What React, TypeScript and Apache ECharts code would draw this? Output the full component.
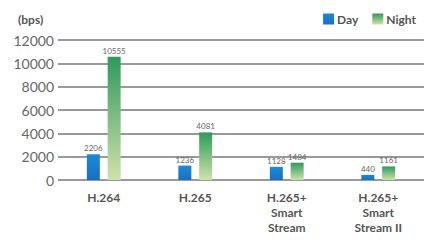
import React, { useEffect, useRef } from "react";
import * as echarts from "echarts";

const categories = ["H.264", "H.265", "H.265+\nSmart\nStream", "H.265+\nSmart\nStream II"];
const dayValues = [2206, 1236, 1128, 440];
const nightValues = [10555, 4081, 1484, 1161];
const yTicks = [0, 2000, 4000, 6000, 8000, 10000, 12000];

const yMin = yTicks[0];
const yMax = yTicks[yTicks.length - 1];
const yStep = yTicks[1] - yTicks[0];

export default function App() {
  const ref = useRef<HTMLDivElement>(null);
  useEffect(() => {
    if (!ref.current) return;
    const chart = echarts.init(ref.current, null, { renderer: "svg" });
    chart.setOption({
      animation: false,
      backgroundColor: "#ffffff",
      textStyle: { fontFamily: "Lato, 'DejaVu Sans', sans-serif" },
      title: {
        text: "(bps)",
        left: 13,
        top: 8,
        textStyle: { fontSize: 12, fontWeight: "bold", color: "#555" },
      },
      legend: {
        right: 6,
        top: 8,
        itemWidth: 11,
        itemHeight: 11,
        itemGap: 14,
        icon: "rect",
        textStyle: { fontSize: 12, fontWeight: "bold", color: "#555", padding: [0, 0, 0, -2] },
        data: ["Day", "Night"],
      },
      grid: { left: 58, width: 366, top: 40, bottom: 63 },
      xAxis: {
        type: "category",
        data: categories,
        axisLine: { show: false },
        axisTick: { show: false },
        axisLabel: {
          fontSize: 12,
          fontWeight: "bold",
          color: "#555",
          lineHeight: 15,
          margin: 10,
          interval: 0,
        },
      },
      yAxis: {
        type: "value",
        min: yMin,
        max: yMax,
        interval: yStep,
        axisLine: { show: false },
        axisTick: { show: false },
        axisLabel: { fontSize: 14, color: "#666", margin: 4, formatter: (v: number) => String(v) },
        splitLine: { show: true, lineStyle: { color: "#777777", width: 1.5, type: "solid" } },
      },
      series: [
        {
          name: "Day",
          type: "bar",
          data: dayValues,
          barWidth: 13,
          barGap: "60%",
          itemStyle: {
            color: new echarts.graphic.LinearGradient(0, 0, 0, 1, [
              { offset: 0, color: "#1b8ad9" },
              { offset: 1, color: "#1a6ec0" },
            ]),
          },
          label: { show: true, position: "top", fontSize: 8, color: "#666", distance: 2 },
        },
        {
          name: "Night",
          type: "bar",
          data: nightValues,
          barWidth: 13,
          itemStyle: {
            color: new echarts.graphic.LinearGradient(0, 0, 0, 1, [
              { offset: 0, color: "#2f9a5c" },
              { offset: 1, color: "#cfe2ab" },
            ]),
          },
          label: { show: true, position: "top", fontSize: 8, color: "#666", distance: 2 },
        },
      ],
    });
    return () => chart.dispose();
  }, []);
  return <div ref={ref} style={{ width: 427, height: 243, position: "absolute", left: 0, top: 0 }} />;
}
